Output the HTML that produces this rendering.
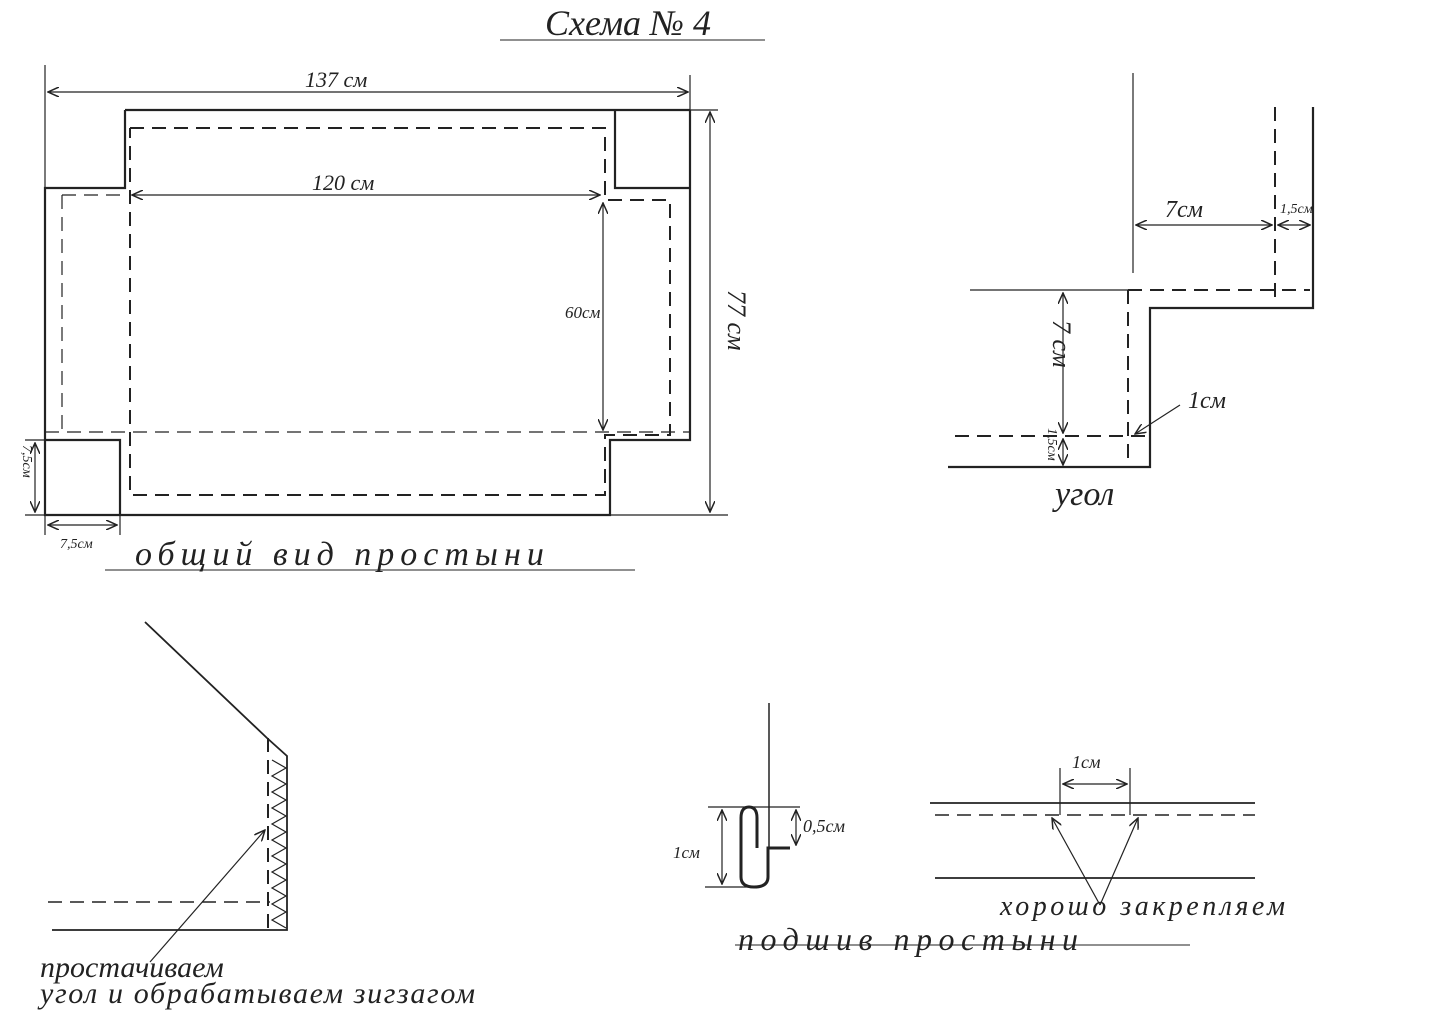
<!DOCTYPE html>
<html><head><meta charset="utf-8"><style>
html,body{margin:0;padding:0;background:#fff;width:1438px;height:1011px;overflow:hidden}
svg text{font-family:"Liberation Serif","DejaVu Serif",serif;font-style:italic;fill:#222}
</style></head><body>
<svg width="1438" height="1011" viewBox="0 0 1438 1011" xmlns="http://www.w3.org/2000/svg">
<defs>
<marker id="a" markerWidth="12" markerHeight="10" refX="11" refY="5" orient="auto-start-reverse" markerUnits="userSpaceOnUse"><path d="M0,0 L11,5 L0,10" fill="none" stroke="#222" stroke-width="1.5"/></marker>
</defs>
<g stroke="#222" fill="none" stroke-width="2">
<line x1="500" y1="40" x2="765" y2="40" stroke-width="1"/>
<path d="M125,110 L690,110 M615,110 L615,188 L690,188 M690,110 L690,440 L610,440 L610,515 L45,515 L45,188 L125,188 L125,110 M45,440 L120,440 L120,515" stroke-width="2.2"/>
<g stroke-dasharray="14,8" stroke-width="2">
<path d="M130,128 L605,128 L605,200 L670,200 L670,435 L605,435 L605,495 L130,495 L130,128"/>
<path d="M62,195 L125,195 M62,195 L62,435 M45,432 L690,432" stroke-width="1.2"/>
</g>
<g stroke-width="1.2">
<line x1="45" y1="65" x2="45" y2="188"/><line x1="690" y1="75" x2="690" y2="110"/>
<line x1="48" y1="92" x2="688" y2="92" marker-start="url(#a)" marker-end="url(#a)"/>
<line x1="132" y1="195" x2="600" y2="195" marker-start="url(#a)" marker-end="url(#a)"/>
<line x1="603" y1="203" x2="603" y2="430" marker-start="url(#a)" marker-end="url(#a)"/>
<line x1="710" y1="112" x2="710" y2="512" marker-start="url(#a)" marker-end="url(#a)"/>
<line x1="690" y1="110" x2="718" y2="110"/><line x1="610" y1="515" x2="728" y2="515"/>
<line x1="25" y1="440" x2="45" y2="440"/><line x1="25" y1="515" x2="45" y2="515"/>
<line x1="35" y1="443" x2="35" y2="512" marker-start="url(#a)" marker-end="url(#a)"/>
<line x1="45" y1="515" x2="45" y2="535"/><line x1="120" y1="515" x2="120" y2="535"/>
<line x1="48" y1="525" x2="117" y2="525" marker-start="url(#a)" marker-end="url(#a)"/>
<line x1="105" y1="570" x2="635" y2="570" stroke-width="1"/>
</g>
<line x1="1133" y1="73" x2="1133" y2="273" stroke-width="1.2"/>
<line x1="1275" y1="107" x2="1275" y2="305" stroke-dasharray="14,8"/>
<path d="M1313,107 L1313,308 L1150,308 L1150,467 L948,467" stroke-width="2.2"/>
<line x1="1128" y1="290" x2="1128" y2="467" stroke-dasharray="14,8"/>
<line x1="970" y1="290" x2="1128" y2="290" stroke-width="1.2"/>
<line x1="1128" y1="290" x2="1310" y2="290" stroke-dasharray="14,8"/>
<line x1="955" y1="436" x2="1148" y2="436" stroke-dasharray="14,8"/>
<g stroke-width="1.2">
<line x1="1136" y1="225" x2="1272" y2="225" marker-start="url(#a)" marker-end="url(#a)"/>
<line x1="1278" y1="225" x2="1310" y2="225" marker-start="url(#a)" marker-end="url(#a)"/>
<line x1="1063" y1="293" x2="1063" y2="433" marker-start="url(#a)" marker-end="url(#a)"/>
<line x1="1063" y1="439" x2="1063" y2="465" marker-start="url(#a)" marker-end="url(#a)"/>
<line x1="1180" y1="405" x2="1135" y2="434" marker-end="url(#a)"/>
</g>
<path d="M145,622 L267,738 L287,756 L287,930 L52,930" stroke-width="1.8"/>
<line x1="268" y1="738" x2="268" y2="930" stroke-dasharray="14,8"/>
<line x1="48" y1="902" x2="270" y2="902" stroke-dasharray="14,8" stroke-width="1.5"/>
<path d="M272,760 L286,768 L272,776 L286,784 L272,792 L286,800 L272,808 L286,816 L272,824 L286,832 L272,840 L286,848 L272,856 L286,864 L272,872 L286,880 L272,888 L286,896 L272,904 L286,912 L272,920 L286,928" stroke-width="1.2"/>
<line x1="150" y1="962" x2="265" y2="830" stroke-width="1.2" marker-end="url(#a)"/>
<line x1="769" y1="703" x2="769" y2="848" stroke-width="1.5"/>
<path d="M757,848 L757,818 Q757,807 749,807 Q741,807 741,818 L741,877 Q741,887 754,887 Q768,887 768,877 L768,848 L790,848" stroke-width="3"/>
<g stroke-width="1.2">
<line x1="708" y1="807" x2="800" y2="807"/><line x1="705" y1="887" x2="760" y2="887"/>
<line x1="722" y1="810" x2="722" y2="884" marker-start="url(#a)" marker-end="url(#a)"/>
<line x1="796" y1="810" x2="796" y2="845" marker-start="url(#a)" marker-end="url(#a)"/>
<line x1="930" y1="803" x2="1255" y2="803" stroke-width="1.8"/>
<line x1="935" y1="815" x2="1255" y2="815" stroke-dasharray="14,8" stroke-width="1.5"/>
<line x1="935" y1="878" x2="1255" y2="878" stroke-width="1.8"/>
<line x1="1060" y1="768" x2="1060" y2="815"/><line x1="1130" y1="768" x2="1130" y2="815"/>
<line x1="1063" y1="784" x2="1127" y2="784" marker-start="url(#a)" marker-end="url(#a)"/>
<line x1="1100" y1="905" x2="1052" y2="818" marker-end="url(#a)"/>
<line x1="1100" y1="905" x2="1138" y2="818" marker-end="url(#a)"/>
<line x1="735" y1="945" x2="1190" y2="945" stroke-width="1"/>
</g>
</g>
<text x="545" y="35" font-size="36">Схема № 4</text>
<text x="305" y="87" font-size="22">137 см</text>
<text x="312" y="190" font-size="22">120 см</text>
<text x="565" y="318" font-size="17">60см</text>
<text transform="translate(728,290) rotate(90)" font-size="26">77 см</text>
<text transform="translate(23,445) rotate(90)" font-size="14">7,5см</text>
<text x="60" y="548" font-size="14">7,5см</text>
<text x="135" y="565" font-size="34" letter-spacing="6">общий  вид  простыни</text>
<text x="1165" y="217" font-size="24">7см</text>
<text x="1280" y="213" font-size="14">1,5см</text>
<text transform="translate(1053,320) rotate(90)" font-size="26">7 см</text>
<text transform="translate(1048,428) rotate(90)" font-size="14">1,5см</text>
<text x="1188" y="408" font-size="24">1см</text>
<text x="1055" y="505" font-size="34">угол</text>
<text x="40" y="977" font-size="30">простачиваем</text>
<text x="40" y="1003" font-size="30" textLength="435">угол и обрабатываем зигзагом</text>
<text x="673" y="858" font-size="17">1см</text>
<text x="803" y="832" font-size="18">0,5см</text>
<text x="1072" y="768" font-size="18">1см</text>
<text x="1000" y="915" font-size="28" textLength="285">хорошо закрепляем</text>
<text x="738" y="950" font-size="32" textLength="340">подшив       простыни</text>
</svg>
</body></html>
